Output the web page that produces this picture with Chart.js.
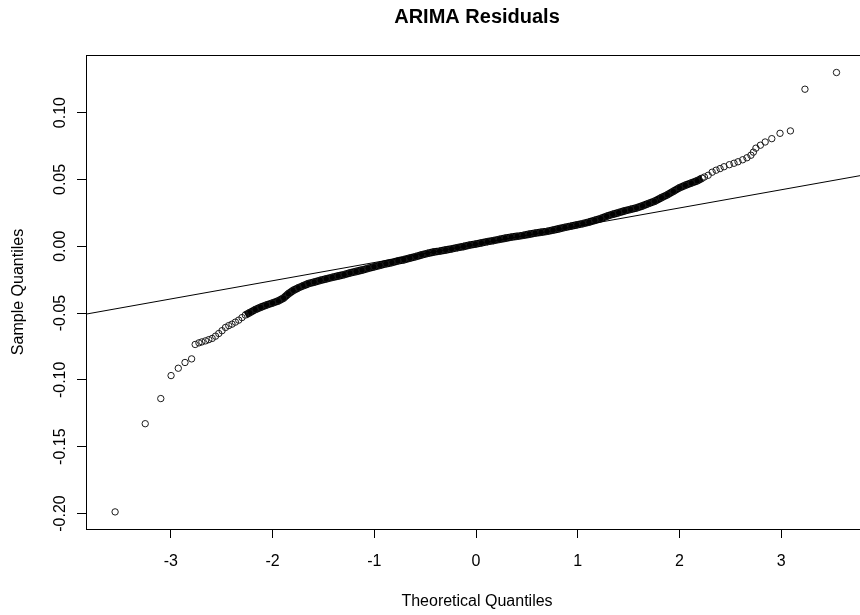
<!DOCTYPE html>
<html>
<head>
<meta charset="utf-8">
<title>ARIMA Residuals</title>
<script src="https://cdn.jsdelivr.net/npm/chart.js@4.4.1/dist/chart.umd.min.js"></script>
<style>
  html, body { margin: 0; padding: 0; background: #fff; overflow: hidden; }
  #wrap { position: relative; width: 871px; height: 615px; }
</style>
</head>
<body>
<div id="wrap"><canvas id="qq"></canvas></div>
<script>
// Tick labels
const xTicks = [-3, -2, -1, 0, 1, 2, 3];
const yTicks = [-0.20, -0.15, -0.10, -0.05, 0.00, 0.05, 0.10];

// Lower tail (separate circles), theoretical vs sample quantiles
const lowTheo = [-3.547, -3.251, -3.098, -2.997, -2.926, -2.860, -2.795, -2.760, -2.723, -2.694, -2.658,
    -2.626, -2.593, -2.560, -2.528, -2.496, -2.462, -2.430, -2.398, -2.365, -2.332, -2.300];
const lowSample = [-0.1988, -0.1328, -0.1140, -0.0968, -0.0913, -0.0870, -0.0843, -0.0735, -0.0723, -0.0716, -0.0708,
    -0.0699, -0.0690, -0.0673, -0.0653, -0.0632, -0.0608, -0.0594, -0.0583, -0.0568, -0.0553, -0.0534];

// Dense middle part
const coreTheo = [-2.267, -2.225, -2.169, -2.117, -2.059, -2.000, -1.941, -1.892, -1.844, -1.795, -1.746,
    -1.697, -1.648, -1.590, -1.531, -1.472, -1.413, -1.355, -1.296, -1.238, -1.179, -1.120, -1.061,
    -1.003, -0.944, -0.885, -0.827, -0.768, -0.710, -0.651, -0.592, -0.534, -0.475, -0.416, -0.358,
    -0.299, -0.240, -0.182, -0.123, -0.065, -0.006, 0.053, 0.112, 0.170, 0.229, 0.287, 0.346, 0.405,
    0.463, 0.522, 0.581, 0.639, 0.698, 0.757, 0.815, 0.874, 0.933, 0.991, 1.050, 1.109, 1.167, 1.226,
    1.284, 1.343, 1.402, 1.460, 1.519, 1.578, 1.636, 1.695, 1.754, 1.823, 1.881, 1.940, 1.999, 2.057,
    2.116, 2.174, 2.223];
const coreSample = [-0.0515, -0.0497, -0.0474, -0.0457, -0.0440, -0.0425, -0.0409, -0.0388, -0.0356, -0.0330, -0.0311,
    -0.0295, -0.0280, -0.0268, -0.0255, -0.0244, -0.0233, -0.0223, -0.0212, -0.0200, -0.0189, -0.0178, -0.0165,
    -0.0154, -0.0143, -0.0131, -0.0122, -0.0110, -0.0101, -0.0089, -0.0077, -0.0064, -0.0053, -0.0043, -0.0037,
    -0.0028, -0.0020, -0.0011, -0.0002, 0.0008, 0.0016, 0.0025, 0.0034, 0.0042, 0.0051, 0.0060, 0.0068, 0.0074,
    0.0081, 0.0090, 0.0098, 0.0104, 0.0111, 0.0121, 0.0131, 0.0141, 0.0150, 0.0160, 0.0169, 0.0180, 0.0194, 0.0207,
    0.0224, 0.0239, 0.0251, 0.0265, 0.0276, 0.0287, 0.0302, 0.0319, 0.0336, 0.0364, 0.0385, 0.0411, 0.0437, 0.0456,
    0.0473, 0.0490, 0.0509];

// Upper tail
const highTheo = [2.245, 2.282, 2.321, 2.360, 2.399, 2.438, 2.490, 2.536, 2.575, 2.621, 2.663, 2.702,
    2.726, 2.751, 2.795, 2.842, 2.907, 2.988, 3.090, 3.233, 3.543];
const highSample = [0.0518, 0.0531, 0.0554, 0.0569, 0.0581, 0.0595, 0.0610, 0.0621, 0.0632, 0.0647, 0.0662, 0.0681,
    0.0704, 0.0734, 0.0756, 0.0780, 0.0805, 0.0845, 0.0863, 0.1175, 0.1300];

// qqline
const lineIntercept = 0.0014;
const lineSlope = 0.01362;

const xMin = -3.833, xMax = 3.833;
const yMin = -0.2116, yMax = 0.1431;

const toPts = (xs, ys) => xs.map((x, i) => ({ x: x, y: ys[i] }));
const allPoints = [].concat(toPts(lowTheo, lowSample), toPts(coreTheo, coreSample), toPts(highTheo, highSample));

const FONT = '"Liberation Sans", Arial, Helvetica, sans-serif';

// box, title, y labels, axis titles (R base graphics look)
const rFrame = {
    id: 'rFrame',
    afterDraw(chart) {
        const { ctx, chartArea: a, scales } = chart;
        ctx.save();
        ctx.strokeStyle = '#000';
        ctx.lineWidth = 1;
        ctx.strokeRect(Math.round(a.left) + 0.5, Math.round(a.top) + 0.5,
            Math.round(a.right - a.left), Math.round(a.bottom - a.top));

        ctx.fillStyle = '#000';
        ctx.font = 'bold 20px ' + FONT;
        ctx.textAlign = 'center';
        ctx.textBaseline = 'alphabetic';
        ctx.fillText('ARIMA Residuals', 477, 23);

        ctx.font = '16px ' + FONT;
        ctx.textBaseline = 'middle';
        ctx.fillText('Theoretical Quantiles', 477, 602);

        yTicks.forEach(v => {
            const py = scales.y.getPixelForValue(v);
            ctx.save();
            ctx.translate(61, py);
            ctx.rotate(-Math.PI / 2);
            ctx.fillText(v.toFixed(2), 0, 0);
            ctx.restore();
        });

        ctx.save();
        ctx.translate(19, (a.top + a.bottom) / 2);
        ctx.rotate(-Math.PI / 2);
        ctx.fillText('Sample Quantiles', 0, 0);
        ctx.restore();
        ctx.restore();
    }
};

new Chart(document.getElementById('qq'), {
    type: 'scatter',
    data: {
        datasets: [
            {
                type: 'line',
                data: [{ x: xMin, y: lineIntercept + lineSlope * xMin }, { x: xMax, y: lineIntercept + lineSlope * xMax }],
                borderColor: '#000',
                borderWidth: 1,
                pointRadius: 0
            },
            {
                data: allPoints,
                pointRadius: 3.2,
                borderWidth: 1,
                borderColor: '#1a1a1a',
                backgroundColor: 'rgba(0,0,0,0)'
            },
            {
                type: 'line',
                data: toPts(coreTheo, coreSample),
                borderColor: '#000',
                borderWidth: 7.5,
                pointRadius: 0,
                tension: 0
            }
        ]
    },
    options: {
        responsive: true,
        maintainAspectRatio: false,
        animation: false,
        events: [],
        layout: { padding: { top: 55, right: 0, left: 0, bottom: 0 } },
        plugins: { legend: { display: false }, tooltip: { enabled: false } },
        scales: {
            x: {
                type: 'linear',
                min: xMin,
                max: xMax,
                afterBuildTicks: s => { s.ticks = xTicks.map(v => ({ value: v })); },
                afterFit: s => { s.height = 86; },
                grid: { display: true, drawOnChartArea: false, drawTicks: true, tickLength: 9, color: '#000' },
                border: { display: false },
                ticks: {
                    color: '#000',
                    padding: 14,
                    maxRotation: 0,
                    font: { family: FONT, size: 16 },
                    callback: v => String(v)
                }
            },
            y: {
                type: 'linear',
                min: yMin,
                max: yMax,
                afterBuildTicks: s => { s.ticks = yTicks.map(v => ({ value: v })); },
                afterFit: s => { s.width = 86; },
                grid: { display: true, drawOnChartArea: false, drawTicks: true, tickLength: 9, color: '#000' },
                border: { display: false },
                ticks: { color: 'rgba(0,0,0,0)', font: { family: FONT, size: 16 } }
            }
        }
    },
    plugins: [rFrame]
});
</script>
</body>
</html>
